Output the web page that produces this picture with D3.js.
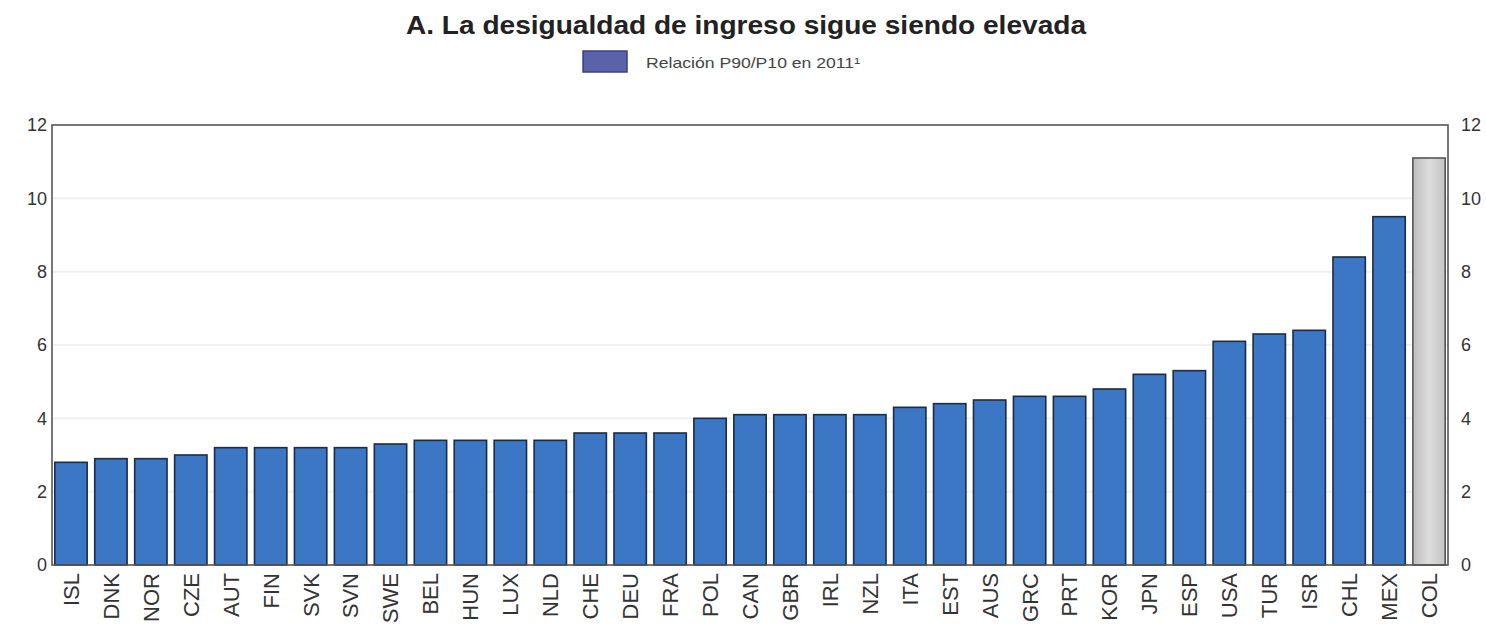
<!DOCTYPE html>
<html><head><meta charset="utf-8">
<script src="https://cdn.jsdelivr.net/npm/d3@7"></script>
<style>body{margin:0;background:#fff}svg{display:block}</style>
</head><body>
<svg id="c" width="1486" height="628"></svg>
<script>
const categories = ["ISL","DNK","NOR","CZE","AUT","FIN","SVK","SVN","SWE","BEL","HUN","LUX","NLD","CHE","DEU","FRA","POL","CAN","GBR","IRL","NZL","ITA","EST","AUS","GRC","PRT","KOR","JPN","ESP","USA","TUR","ISR","CHL","MEX","COL"];
const values = [2.8,2.9,2.9,3.0,3.2,3.2,3.2,3.2,3.3,3.4,3.4,3.4,3.4,3.6,3.6,3.6,4.0,4.1,4.1,4.1,4.1,4.3,4.4,4.5,4.6,4.6,4.8,5.2,5.3,6.1,6.3,6.4,8.4,9.5,11.1];
const highlighted = ["COL"];
const yTicks = [0,2,4,6,8,10,12];
const title = "A. La desigualdad de ingreso sigue siendo elevada";
const legendLabel = "Relación P90/P10 en 2011¹";

const svg = d3.select("#c");
const m = {left:52, right:1448, top:125, bottom:565};
const x = d3.scaleBand().domain(categories).range([m.left, m.right]).paddingInner(0.19).paddingOuter(0.07);
const y = d3.scaleLinear().domain([0,12]).range([m.bottom, m.top]);
const font = "Liberation Sans, Arial, sans-serif";

const defs = svg.append("defs");
const g = defs.append("linearGradient").attr("id","gray").attr("x1","0").attr("x2","1");
g.append("stop").attr("offset","0").attr("stop-color","#bdbdbd");
g.append("stop").attr("offset","0.5").attr("stop-color","#dcdcdc");
g.append("stop").attr("offset","1").attr("stop-color","#c4c4c4");

// gridlines
svg.append("g").selectAll("line").data(yTicks.filter(d=>d>0&&d<12)).join("line")
  .attr("x1",m.left).attr("x2",m.right).attr("y1",d=>y(d)).attr("y2",d=>y(d))
  .attr("stroke","#f0f0f0").attr("stroke-width",2);

// bars
svg.append("g").selectAll("rect").data(categories).join("rect")
  .attr("x",d=>x(d)).attr("width",x.bandwidth())
  .attr("y",(d,i)=>y(values[i])).attr("height",(d,i)=>y(0)-y(values[i]))
  .attr("fill",d=>highlighted.includes(d)?"url(#gray)":"#3b77c4")
  .attr("stroke",d=>highlighted.includes(d)?"#555":"#1d2c44").attr("stroke-width",1.6);

// frame
svg.append("rect").attr("x",m.left).attr("y",m.top).attr("width",m.right-m.left).attr("height",m.bottom-m.top)
  .attr("fill","none").attr("stroke","#555").attr("stroke-width",1.6);

// axes
const yl = svg.append("g").attr("transform",`translate(${m.left},0)`)
  .call(d3.axisLeft(y).tickValues(yTicks).tickSize(0).tickPadding(5));
const yr = svg.append("g").attr("transform",`translate(${m.right},0)`)
  .call(d3.axisRight(y).tickValues(yTicks).tickSize(0).tickPadding(13));
[yl,yr].forEach(a=>{a.select(".domain").remove();
  a.selectAll("text").attr("font-family",font).attr("font-size",18).attr("fill","#333");});

const xa = svg.append("g").attr("transform",`translate(0,${m.bottom})`)
  .call(d3.axisBottom(x).tickSize(0));
xa.select(".domain").remove();
xa.selectAll("text").attr("font-family",font).attr("font-size",22).attr("fill","#333")
  .attr("transform","rotate(-90)").attr("text-anchor","end").attr("x",-8).attr("y",0).attr("dy","0.36em");

// title
svg.append("text").attr("x",406).attr("y",34)
  .attr("font-family",font).attr("font-weight","bold").attr("font-size",25).attr("fill","#222")
  .attr("textLength",680).attr("lengthAdjust","spacingAndGlyphs")
  .text(title);

// legend
svg.append("rect").attr("x",583).attr("y",51).attr("width",44).attr("height",21)
  .attr("fill","#5a63aa").attr("stroke","#3a4082").attr("stroke-width",1.5);
svg.append("text").attr("x",646).attr("y",68)
  .attr("font-family",font).attr("font-size",15).attr("fill","#444")
  .attr("textLength",214).attr("lengthAdjust","spacingAndGlyphs")
  .text(legendLabel);
</script>
</body></html>
